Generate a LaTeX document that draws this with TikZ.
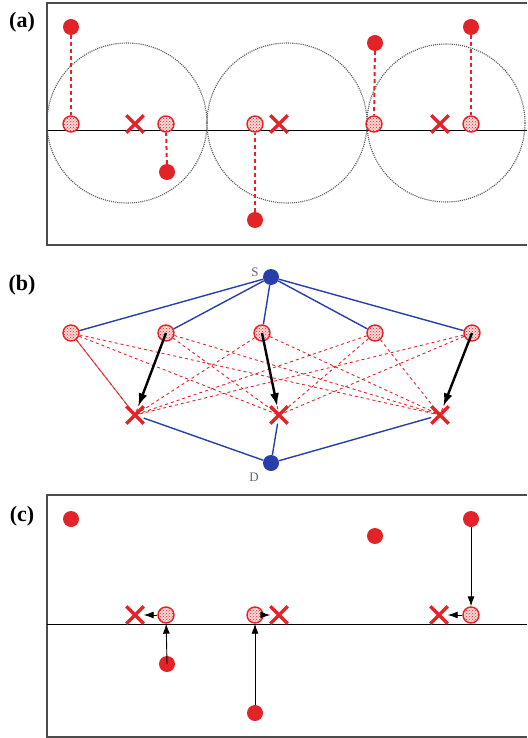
\documentclass[tikz,border=0pt]{standalone}
\usepackage{fontspec}
\setmainfont{Liberation Serif}
\usepackage{tikz}
\usetikzlibrary{positioning,arrows.meta,shapes.misc,patterns}
\definecolor{ptred}{RGB}{226,36,40}
\definecolor{ptblue}{RGB}{40,62,170}

\begin{document}
\begin{tikzpicture}[x=1pt,y=-1pt,
  dotnode/.style={circle,fill=ptred,minimum size=16pt,inner sep=0pt},
  patnode/.style={circle,draw=ptred,line width=1.4pt,preaction={fill=ptred!18},pattern=crosshatch dots,pattern color=ptred,minimum size=16pt,inner sep=0pt},
  xnode/.style={cross out,draw=ptred,line width=3.4pt,minimum size=14pt,inner sep=0pt},
  endnode/.style={circle,fill=ptblue,minimum size=16pt,inner sep=0pt},
  panel/.style={font=\fontsize{22}{24}\selectfont\bfseries},
  tag/.style={font=\fontsize{13}{14}\selectfont,text=black!60},
  frame/.style={draw=black!70,line width=1.3pt},
  zone/.style={draw=black!65,densely dotted,line width=1.1pt},
  move/.style={draw=ptred,line width=2pt,dash pattern=on 4pt off 3pt},
  link/.style={draw=ptblue,line width=1.4pt},
  cand/.style={draw=ptred,line width=0.9pt,dashed},
  pick/.style={draw=black,line width=2.4pt,-{Latex[length=13pt,width=9pt]}},
  push/.style={draw=black,line width=0.9pt,-{Latex[length=10pt,width=7pt]}}]
\useasboundingbox (0,0) rectangle (527,738);

% (a) coverage of the targets
\node[panel] (la) at (22,22) {(a)};
\draw[frame] (527,3) -- (47,3) -- (47,245) -- (527,245);
\draw[line width=1pt] (47,131) -- (527,131);
\draw[zone] (127,123) circle[radius=80];
\draw[zone] (287,123) circle[radius=80];
\draw[zone] (446,123) circle[radius=79];
\node[dotnode] (a1) at (71,27) {};
\node[patnode] (ah1) at (71,124) {};
\node[xnode] (ax1) at (135,124) {};
\node[patnode] (ah2) at (166,124) {};
\node[dotnode] (a2) at (167,172) {};
\node[patnode] (ah3) at (255,124) {};
\node[xnode] (ax2) at (279,124) {};
\node[dotnode] (a3) at (255,220) {};
\node[dotnode] (a4) at (375,43) {};
\node[patnode] (ah4) at (374,124) {};
\node[xnode] (ax3) at (440,124) {};
\node[patnode] (ah5) at (471,124) {};
\node[dotnode] (a5) at (471,27) {};
\foreach \p/\q in {a1/ah1,a2/ah2,a3/ah3,a4/ah4,a5/ah5} \draw[move] (\p) -- (\q);

% (b) flow network
\node[panel] (lb) at (22,285) {(b)};
\node[endnode] (S) at (271,277) {};
\node[tag] (sl) at (255,272) {S};
\node[endnode] (D) at (271,463) {};
\node[tag] (dl) at (254,477) {D};
\foreach \x [count=\i] in {71,166,262,375,472} \node[patnode] (bh\i) at (\x,333) {};
\foreach \x [count=\j] in {135,279,440} \node[xnode] (bx\j) at (\x,415) {};
\foreach \i in {1,...,5} \draw[link] (S) -- (bh\i);
\foreach \j in {1,2,3} \draw[link] (bx\j) -- (D);
\foreach \i in {1,...,5} \foreach \j in {1,2,3} \draw[cand] (bh\i) -- (bx\j.center);
\draw[draw=ptred,line width=0.8pt] (bh1) -- (bx1.center);
\foreach \a/\b in {bh2/bx1,bh3/bx2,bh5/bx3} \draw[pick] (\a.center) -- (\b);

% (c) resulting moves
\node[panel] (lc) at (22,516) {(c)};
\draw[frame] (527,495) -- (47,495) -- (47,737) -- (527,737);
\draw[line width=1pt] (47,624) -- (527,624);
\node[dotnode] (c1) at (71,519) {};
\node[dotnode] (c2) at (375,536) {};
\node[dotnode] (c3) at (471,519) {};
\node[patnode] (ch3) at (471,615) {};
\node[xnode] (cx3) at (439,615) {};
\node[xnode] (cx1) at (135,615) {};
\node[patnode] (ch1) at (166,615) {};
\node[dotnode] (c4) at (167,664) {};
\node[patnode] (ch2) at (255,615) {};
\node[xnode] (cx2) at (279,615) {};
\node[dotnode] (c5) at (255,713) {};
\foreach \a/\b in {c3/ch3,ch3/cx3,ch1/cx1,ch2/cx2,c5/ch2} \draw[push] (\a) -- (\b);
\draw[push] (c4.center) -- (ch1);
\end{tikzpicture}
\end{document}
